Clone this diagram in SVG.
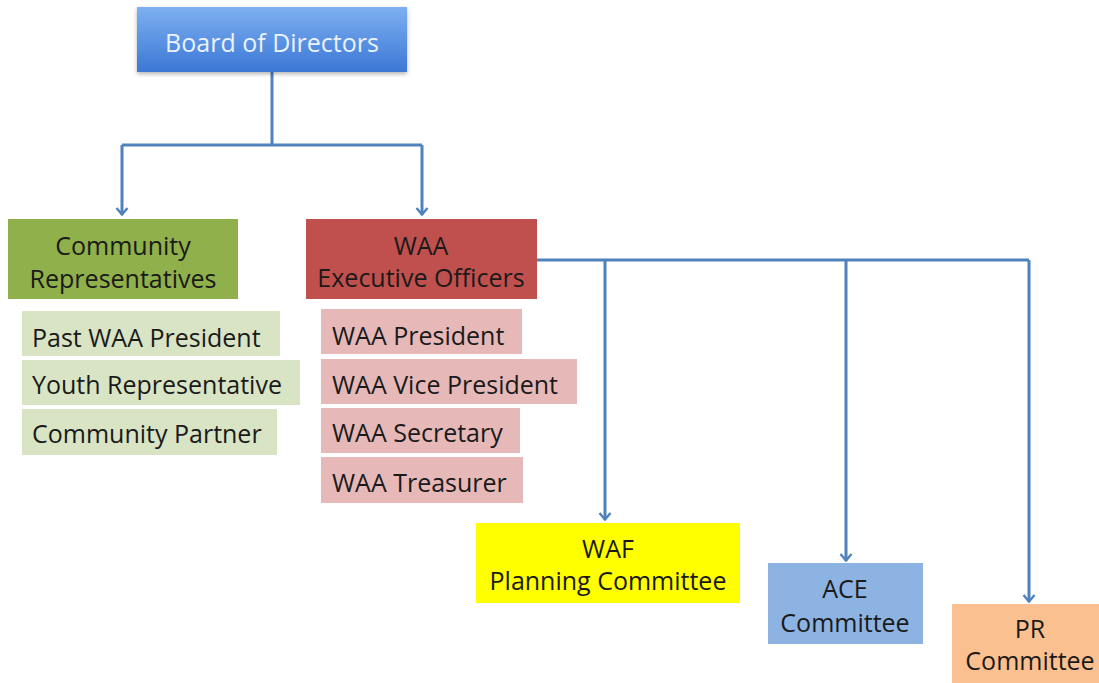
<svg xmlns="http://www.w3.org/2000/svg" width="1099" height="683" viewBox="0 0 1099 683">
<defs>
<linearGradient id="gBoard" x1="0" y1="0" x2="0" y2="1">
<stop offset="0" stop-color="#7db0f0"/>
<stop offset="1" stop-color="#3c77d6"/>
</linearGradient>
<filter id="sh" x="-5%" y="-10%" width="110%" height="130%">
<feDropShadow dx="0" dy="2" stdDeviation="2" flood-color="#000" flood-opacity="0.3"/>
</filter>
<marker id="arr" viewBox="0 0 14 14" refX="13" refY="7" markerWidth="14" markerHeight="14" markerUnits="userSpaceOnUse" orient="auto">
<path d="M6,1.5 L12.5,7 L6,12.5" fill="none" stroke="#4f81bd" stroke-width="2.4"/>
</marker>
</defs>
<style>
text{font-family:"Open Sans","Liberation Sans",sans-serif;font-size:25px;fill:#1a1a1a}
.c{text-anchor:middle}
.conn{fill:none;stroke:#4f81bd;stroke-width:3}
.sg{fill:#d8e4c4}
.sp{fill:#e6b9b8}
</style>
<rect width="1099" height="683" fill="#ffffff"/>
<g id="connectors">
<path class="conn" d="M272,72 V145 M122,145 H422"/>
<path class="conn" d="M122,145 V215" marker-end="url(#arr)"/>
<path class="conn" d="M422,145 V215" marker-end="url(#arr)"/>
<path class="conn" d="M537,260 H1029"/>
<path class="conn" d="M605,260 V520" marker-end="url(#arr)"/>
<path class="conn" d="M846,260 V561" marker-end="url(#arr)"/>
<path class="conn" d="M1029,260 V602" marker-end="url(#arr)"/>
</g>
<g id="board">
<rect x="137" y="7" width="270" height="65" fill="url(#gBoard)" filter="url(#sh)"/>
<text x="272" y="52" class="c" style="fill:#eaf2fb">Board of Directors</text>
</g>
<g id="community-reps">
<rect x="8" y="219" width="230" height="80" fill="#8fb04a"/>
<text x="123" y="255" class="c">Community</text>
<text x="123" y="288" class="c">Representatives</text>
</g>
<g id="past-president">
<rect class="sg" x="22" y="311" width="258" height="45"/>
<text x="32" y="347">Past WAA President</text>
</g>
<g id="youth-rep">
<rect class="sg" x="22" y="360" width="278" height="45"/>
<text x="32" y="394">Youth Representative</text>
</g>
<g id="community-partner">
<rect class="sg" x="22" y="409" width="255" height="46"/>
<text x="32" y="443">Community Partner</text>
</g>
<g id="exec-officers">
<rect x="306" y="219" width="231" height="80" fill="#c0504d"/>
<text x="421" y="255" class="c">WAA</text>
<text x="421" y="287" class="c">Executive Officers</text>
</g>
<g id="waa-president">
<rect class="sp" x="321" y="309" width="201" height="45"/>
<text x="332" y="345">WAA President</text>
</g>
<g id="waa-vice-president">
<rect class="sp" x="321" y="359" width="256" height="45"/>
<text x="332" y="394">WAA Vice President</text>
</g>
<g id="waa-secretary">
<rect class="sp" x="321" y="408" width="199" height="45"/>
<text x="332" y="442">WAA Secretary</text>
</g>
<g id="waa-treasurer">
<rect class="sp" x="321" y="457" width="202" height="46"/>
<text x="332" y="492">WAA Treasurer</text>
</g>
<g id="waf">
<rect x="476" y="523" width="264" height="80" fill="#ffff00"/>
<text x="608" y="558" class="c">WAF</text>
<text x="608" y="590" class="c">Planning Committee</text>
</g>
<g id="ace">
<rect x="768" y="563" width="155" height="81" fill="#8db3e2"/>
<text x="845" y="598" class="c">ACE</text>
<text x="845" y="632" class="c">Committee</text>
</g>
<g id="pr">
<rect x="952" y="604" width="147" height="79" fill="#fac090"/>
<text x="1030" y="638" class="c">PR</text>
<text x="1030" y="670" class="c">Committee</text>
</g>
</svg>
